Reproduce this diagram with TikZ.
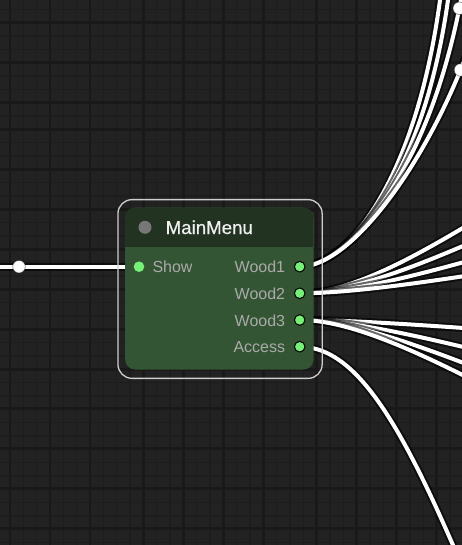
\documentclass[tikz,border=0pt]{standalone}
\usepackage{fontspec}
\setmainfont{Liberation Sans}
\newfontfamily\titlefont[FakeBold=0.6]{Liberation Sans}
\definecolor{bgc}{HTML}{222222}
\definecolor{gridminor}{HTML}{1D1D1D}
\definecolor{gridmajor}{HTML}{191919}
\definecolor{titlegreen}{HTML}{223322}
\definecolor{bodygreen}{HTML}{335533}
\definecolor{slotgreen}{HTML}{77F077}
\definecolor{labelgray}{HTML}{AAAAAA}
\definecolor{titletext}{HTML}{F0F0F0}
\definecolor{selborder}{HTML}{CFCFCF}
\definecolor{boxgray}{HTML}{777777}
\pgfdeclarelayer{gridlayer}
\pgfdeclarelayer{linklayer}
\pgfsetlayers{gridlayer,linklayer,main}
\tikzset{
  minorline/.style={draw=gridminor, line width=1.3pt},
  majorline/.style={draw=gridmajor, line width=2.6pt},
  link/.style={draw=white, line width=4pt,
    preaction={draw=black, draw opacity=0.6, line width=8pt}},
  linkdot/.style={circle, fill=white, draw=black, draw opacity=0.4, line width=0.8pt, minimum size=12.6pt, inner sep=0pt},
  outslot/.style={circle, fill=slotgreen, draw=black, line width=1pt, minimum size=10.6pt, inner sep=0pt},
  inslot/.style={circle, fill=slotgreen, minimum size=10.6pt, inner sep=0pt},
  slotlabel/.style={inner sep=0pt, text=labelgray, font=\fontsize{16}{16}\selectfont},
}
\begin{document}
\begin{tikzpicture}[x=1pt,y=-1pt]
\useasboundingbox (0,0) rectangle (462,545);
\clip (0,0) rectangle (462,545);

% ---------- node (main layer) ----------
\node[draw=selborder, line width=1.3pt, rounded corners=14pt, minimum width=204.2pt, minimum height=178.7pt, anchor=north west, inner sep=0pt] (sel) at (117.3,199) {};
\node[fill=bodygreen, rounded corners=10pt, minimum width=188.3pt, minimum height=161.8pt, anchor=north west, inner sep=0pt] (mainmenu) at (125,207.5) {};
\begin{scope}
  \clip[rounded corners=10pt] (125,207.5) rectangle (313.3,369.3);
  \fill[titlegreen] (125,207.5) rectangle (313.3,247.3);
\end{scope}
\node[circle, fill=boxgray, minimum size=13pt, inner sep=0pt] (titlebox) at (145,227.3) {};
\node[anchor=base west, inner sep=0pt, text=titletext, font=\titlefont\fontsize{18.67}{18.67}\selectfont] (title) at (165.5,234) {MainMenu};

\node[inslot] (show) at (139,266.7) {};
\node[slotlabel, anchor=base west] (showlbl) at (152.3,272.7) {Show};

\node[outslot] (wood1) at (299.7,266.7) {};
\node[outslot] (wood2) at (299.7,293.3) {};
\node[outslot] (wood3) at (299.7,320) {};
\node[outslot] (access) at (299.7,346.7) {};
\node[slotlabel, anchor=base east] (w1lbl) at (285.3,272.7) {Wood1};
\node[slotlabel, anchor=base east] (w2lbl) at (285.3,299.3) {Wood2};
\node[slotlabel, anchor=base east] (w3lbl) at (285.3,326) {Wood3};
\node[slotlabel, anchor=base east] (acclbl) at (285.3,352.7) {Access};

% ---------- free ends of links ----------
\coordinate (srcin) at (-30,266.7);
\coordinate (tA) at (440,0);
\coordinate (tB) at (448,0);
\coordinate (dotC) at (459.3,8.3);
\coordinate (dotD) at (460.5,70);
\coordinate (t21) at (700,118);
\coordinate (t22) at (720,158);
\coordinate (t23) at (720,205);
\coordinate (t24) at (720,245);
\coordinate (t31) at (720,342.6);
\coordinate (t32) at (720,396.6);
\coordinate (t33) at (720,442);
\coordinate (t34) at (720,478);
\coordinate (tacc) at (470,585);

% ---------- grid ----------
\begin{pgfonlayer}{gridlayer}
  \fill[bgc] (0,0) rectangle (462,545);
  \foreach \i in {-1,...,34} \draw[minorline] ({10+13.3333*\i},0) -- ({10+13.3333*\i},545);
  \foreach \j in {-1,...,40} \draw[minorline] (0,{9.33+13.3333*\j}) -- (462,{9.33+13.3333*\j});
  \foreach \xx in {10,50,90,143.3,183.3,223.3,263.3,316.7,356.7,396.7,436.7}
    \draw[majorline] (\xx,0) -- (\xx,545);
  \foreach \yy in {22.7,62.7,102.7,129.3,169.3,209.3,249.3,289.3,329.3,369.3,408.3,448.3,488.3,528.3}
    \draw[majorline] (0,\yy) -- (462,\yy);
\end{pgfonlayer}

% ---------- links ----------
\begin{pgfonlayer}{linklayer}
  \draw[link] (srcin) -- (show.center);
  \node[linkdot] (dotin) at (19,266.7) {};

  \draw[link] (wood1.center) .. controls (345,266.7) and (415,185) .. (tA) -- ++(2.7,-20);
  \draw[link] (wood1.center) .. controls (345,266.7) and (422,185) .. (tB) -- ++(2.8,-20);
  \draw[link] (wood1.center) .. controls (345,266.7) and (425,180) .. (dotC) -- ++(6.8,-34);
  \draw[link] (wood1.center) .. controls (350,266.7) and (420,170) .. (dotD) -- ++(8,-20);
  \node[linkdot] (markC) at (dotC) {};
  \node[linkdot] (markD) at (dotD) {};

  \draw[link] (wood2.center) .. controls (411,293.3) and (589,118) .. (t21);
  \draw[link] (wood2.center) .. controls (411,293.3) and (609,158) .. (t22);
  \draw[link] (wood2.center) .. controls (408,293.3) and (612,205) .. (t23);
  \draw[link] (wood2.center) .. controls (406,293.3) and (614,245) .. (t24);

  \draw[link] (wood3.center) .. controls (405,320) and (615,342.6) .. (t31);
  \draw[link] (wood3.center) .. controls (407,320) and (613,396.6) .. (t32);
  \draw[link] (wood3.center) .. controls (409,320) and (611,442) .. (t33);
  \draw[link] (wood3.center) .. controls (412,320) and (608,478) .. (t34);

  \draw[link] (access.center) .. controls (360,346.7) and (407,435) .. (tacc);
\end{pgfonlayer}
\end{tikzpicture}
\end{document}
